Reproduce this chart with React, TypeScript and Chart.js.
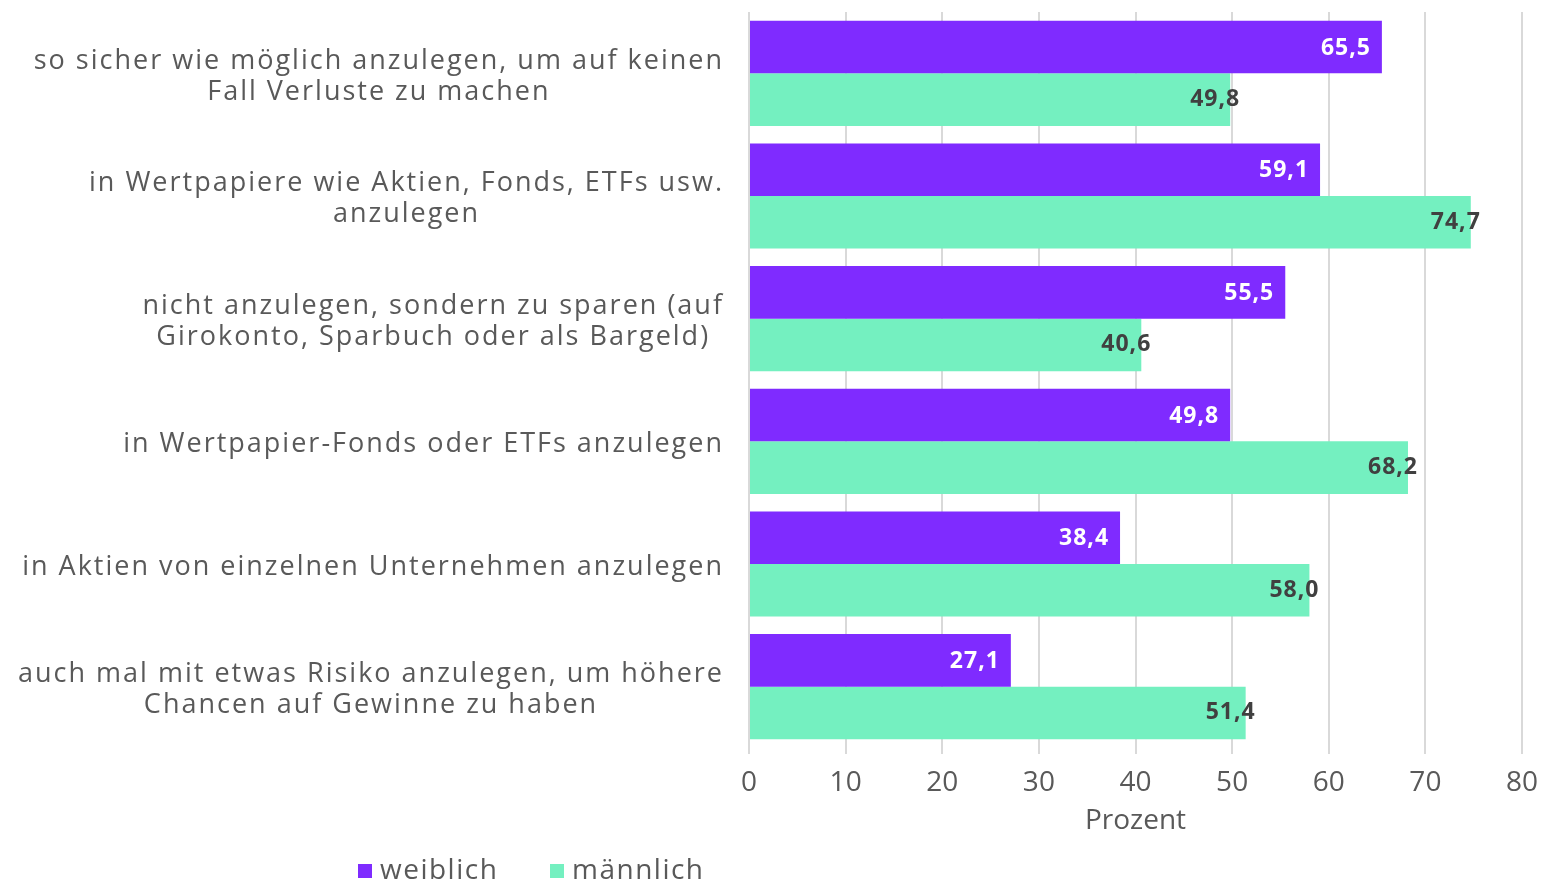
import React, { useEffect, useRef } from "react";
import { Chart, registerables } from "chart.js";
Chart.register(...registerables);

const categories: string[][] = [
  ["so sicher wie möglich anzulegen, um auf keinen", "Fall Verluste zu machen"],
  ["in Wertpapiere wie Aktien, Fonds, ETFs usw.", "anzulegen"],
  ["nicht anzulegen, sondern zu sparen (auf", "Girokonto, Sparbuch oder als Bargeld)"],
  ["in Wertpapier-Fonds oder ETFs anzulegen"],
  ["in Aktien von einzelnen Unternehmen anzulegen"],
  ["auch mal mit etwas Risiko anzulegen, um höhere", "Chancen auf Gewinne zu haben"],
];
const weiblich = [65.5, 59.1, 55.5, 49.8, 38.4, 27.1];
const maennlich = [49.8, 74.7, 40.6, 68.2, 58.0, 51.4];
const seriesNames = ["weiblich", "männlich"];
const colors = ["#7F2BFF", "#74F0C0"];
const axisTitle = "Prozent";

const FONT = "'Open Sans', sans-serif";
const GRAY = "#595959";

const fmt = (v: number) => v.toFixed(1).replace(".", ",");

const customPlugin = {
  id: "custom",
  afterDraw(chart: any) {
    const ctx = chart.ctx as any;
    const y = chart.scales.y;
    ctx.save();
    // category labels: right-aligned block, centered lines
    ctx.letterSpacing = "2px";
    ctx.font = `27px ${FONT}`;
    ctx.fillStyle = GRAY;
    ctx.textBaseline = "middle";
    ctx.textAlign = "center";
    const lh = 31;
    categories.forEach((lines, i) => {
      const cy = y.getPixelForValue(i) + 3;
      const w = Math.max(...lines.map((l) => ctx.measureText(l).width));
      const cx = 724 - w / 2;
      const y0 = cy - ((lines.length - 1) * lh) / 2;
      lines.forEach((l: string, j: number) => ctx.fillText(l, cx, y0 + j * lh));
    });
    // data labels
    ctx.letterSpacing = "1px";
    ctx.font = `bold 23px ${FONT}`;
    chart.data.datasets.forEach((ds: any, di: number) => {
      const meta = chart.getDatasetMeta(di);
      meta.data.forEach((bar: any, i: number) => {
        const v = ds.data[i];
        const txt = fmt(v);
        if (di === 0) {
          ctx.fillStyle = "#FFFFFF";
          ctx.textAlign = "right";
          ctx.fillText(txt, bar.x - 11, bar.y + 1);
        } else {
          ctx.fillStyle = "#404040";
          ctx.textAlign = "center";
          ctx.fillText(txt, bar.x - 15, bar.y);
        }
      });
    });
    // legend
    ctx.letterSpacing = "1.5px";
    ctx.font = `28px ${FONT}`;
    ctx.textAlign = "left";
    ctx.textBaseline = "middle";
    const legendY = 871;
    const starts = [358, 550];
    seriesNames.forEach((n, i) => {
      ctx.fillStyle = colors[i];
      ctx.fillRect(starts[i], legendY - 7, 14, 14);
      ctx.fillStyle = GRAY;
      ctx.fillText(n, starts[i] + 22, legendY);
    });
    ctx.restore();
    ctx.letterSpacing = "0px";
  },
};

export default function App() {
  const ref = useRef<HTMLCanvasElement>(null);
  useEffect(() => {
    if (!ref.current) return;
    const chart = new Chart(ref.current, {
      type: "bar",
      data: {
        labels: categories.map((c) => c.join(" ")),
        datasets: [
          { label: seriesNames[0], data: weiblich, backgroundColor: colors[0], categoryPercentage: 0.857, barPercentage: 1 },
          { label: seriesNames[1], data: maennlich, backgroundColor: colors[1], categoryPercentage: 0.857, barPercentage: 1 },
        ],
      },
      options: {
        indexAxis: "y",
        responsive: false,
        animation: false,
        layout: { padding: { left: 749, right: 23, top: 12, bottom: 42 } },
        plugins: { legend: { display: false }, tooltip: { enabled: false } },
        scales: {
          x: {
            min: 0,
            max: 80,
            afterFit: (scale: any) => {
              scale.height = 92;
              scale.paddingLeft = 0;
              scale.paddingRight = 0;
            },
            ticks: { stepSize: 10, color: GRAY, font: { family: FONT, size: 28 }, padding: 12, maxRotation: 0 },
            grid: { color: "#D9D9D9", lineWidth: 2, tickLength: 6, drawTicks: true },
            border: { display: false },
            title: { display: true, text: axisTitle, color: GRAY, font: { family: FONT, size: 28 }, padding: { top: 0, bottom: 2 } },
          },
          y: {
            display: false,
          },
        },
      },
      plugins: [customPlugin],
    });
    return () => chart.destroy();
  }, []);
  return (
    <div style={{ position: "fixed", left: 0, top: 0, width: 1545, height: 882, background: "#fff" }}>
      <canvas ref={ref} width={1545} height={882} />
    </div>
  );
}
